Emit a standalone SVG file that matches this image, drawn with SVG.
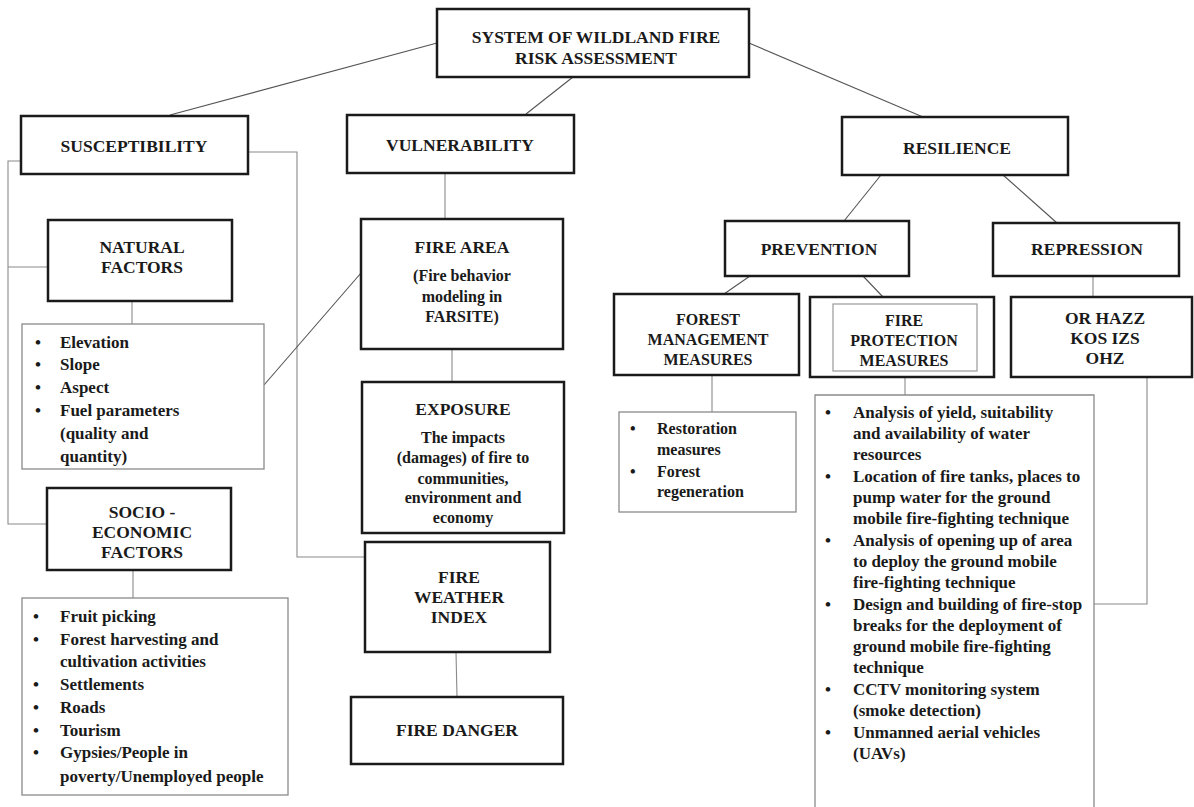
<svg xmlns="http://www.w3.org/2000/svg" width="1194" height="807" viewBox="0 0 1194 807">
<style>
text{font-family:"Liberation Serif","Times New Roman",serif;font-weight:bold;fill:#1a1a1a}
.h{font-size:17.5px;text-anchor:middle}
.h16{font-size:16px;text-anchor:middle}
.s{font-size:16px;text-anchor:middle}
.b{font-size:17px}
.b16{font-size:16px}
.box{fill:#fff;stroke:#1a1a1a;stroke-width:2.5}
.lst{fill:#fff;stroke:#8a8a8a;stroke-width:1.3}
.c{fill:none;stroke:#555;stroke-width:1.1}
.c2{fill:none;stroke:#8a8a8a;stroke-width:1.1}
</style>
<rect width="1194" height="807" fill="#fff"/>
<g id="connectors">
<line class="c" x1="437" y1="43" x2="170" y2="115"/>
<line class="c" x1="573" y1="77" x2="526" y2="114"/>
<line class="c" x1="749" y1="43" x2="923" y2="117"/>
<polyline class="c2" points="21,161 8,161 8,524 47,524"/>
<line class="c2" x1="8" y1="267" x2="48" y2="267"/>
<polyline class="c2" points="248,152 297,152 297,557 365,557"/>
<line class="c2" x1="445" y1="173" x2="445" y2="219"/>
<line class="c" x1="264" y1="385" x2="361" y2="273"/>
<line class="c2" x1="132" y1="301" x2="132" y2="324"/>
<line class="c2" x1="133" y1="570" x2="133" y2="598"/>
<line class="c2" x1="452" y1="349" x2="452" y2="382"/>
<line class="c2" x1="456" y1="652" x2="457" y2="697"/>
<line class="c" x1="881" y1="175" x2="844" y2="221"/>
<line class="c" x1="1003" y1="175" x2="1057" y2="223"/>
<line class="c" x1="750" y1="276" x2="724" y2="294"/>
<line class="c" x1="863" y1="276" x2="883" y2="297"/>
<line class="c2" x1="1093" y1="276" x2="1093" y2="297"/>
<line class="c2" x1="712" y1="375" x2="712" y2="412"/>
<line class="c2" x1="905" y1="377" x2="905" y2="395"/>
<polyline class="c2" points="1147,377 1147,604 1094,604"/>
</g>
<g id="root">
<rect class="box" x="437" y="9" width="312" height="68"/>
<text class="h" x="596" y="43">SYSTEM OF WILDLAND FIRE</text>
<text class="h" x="596" y="64">RISK ASSESSMENT</text>
</g>
<g id="susceptibility">
<rect class="box" x="21" y="116" width="227" height="58"/>
<text class="h" x="134" y="152">SUSCEPTIBILITY</text>
</g>
<g id="vulnerability">
<rect class="box" x="347" y="115" width="227" height="58"/>
<text class="h" x="460" y="151">VULNERABILITY</text>
</g>
<g id="resilience">
<rect class="box" x="842" y="117" width="226" height="58"/>
<text class="h" x="957" y="154">RESILIENCE</text>
</g>
<g id="prevention">
<rect class="box" x="725" y="221" width="184" height="55"/>
<text class="h" x="819" y="255">PREVENTION</text>
</g>
<g id="repression">
<rect class="box" x="993" y="223" width="186" height="53"/>
<text class="h" x="1087" y="255">REPRESSION</text>
</g>
<g id="forest-management">
<rect class="box" x="614" y="294" width="185" height="81"/>
<text class="h16" x="708" y="325">FOREST</text>
<text class="h16" x="708" y="345">MANAGEMENT</text>
<text class="h16" x="708" y="365">MEASURES</text>
</g>
<g id="fire-protection">
<rect class="box" x="810" y="297" width="184" height="80"/>
<rect x="833" y="304" width="144" height="67" fill="none" stroke="#999" stroke-width="1.2"/>
<text class="h16" x="904" y="326">FIRE</text>
<text class="h16" x="904" y="346">PROTECTION</text>
<text class="h16" x="904" y="366">MEASURES</text>
</g>
<g id="or-hazz">
<rect class="box" x="1011" y="297" width="181" height="80"/>
<text class="h" x="1105" y="324">OR HAZZ</text>
<text class="h" x="1105" y="344">KOS IZS</text>
<text class="h" x="1105" y="364">OHZ</text>
</g>
<g id="natural-factors">
<rect class="box" x="48" y="220" width="184" height="81"/>
<text class="h" x="142" y="253">NATURAL</text>
<text class="h" x="142" y="273">FACTORS</text>
</g>
<g id="natural-list">
<rect class="lst" x="22" y="324" width="242" height="145"/>
<text class="b"><tspan x="35" y="348">•</tspan><tspan x="60" y="348">Elevation</tspan><tspan x="35" y="370">•</tspan><tspan x="60" y="370">Slope</tspan><tspan x="35" y="393">•</tspan><tspan x="60" y="393">Aspect</tspan><tspan x="35" y="416">•</tspan><tspan x="60" y="416">Fuel parameters</tspan><tspan x="60" y="439">(quality and</tspan><tspan x="60" y="462">quantity)</tspan></text>
</g>
<g id="socio-economic">
<rect class="box" x="47" y="488" width="184" height="82"/>
<text class="h" x="142" y="518">SOCIO -</text>
<text class="h" x="142" y="538">ECONOMIC</text>
<text class="h" x="142" y="558">FACTORS</text>
</g>
<g id="socio-list">
<rect class="lst" x="22" y="598" width="266" height="197"/>
<text class="b"><tspan x="33" y="622">•</tspan><tspan x="60" y="622">Fruit picking</tspan><tspan x="33" y="645">•</tspan><tspan x="60" y="645">Forest harvesting and</tspan><tspan x="60" y="667">cultivation activities</tspan><tspan x="33" y="690">•</tspan><tspan x="60" y="690">Settlements</tspan><tspan x="33" y="713">•</tspan><tspan x="60" y="713">Roads</tspan><tspan x="33" y="736">•</tspan><tspan x="60" y="736">Tourism</tspan><tspan x="33" y="758">•</tspan><tspan x="60" y="758">Gypsies/People in</tspan><tspan x="60" y="782">poverty/Unemployed people</tspan></text>
</g>
<g id="fire-area">
<rect class="box" x="361" y="219" width="202" height="130"/>
<text class="h" x="462" y="253">FIRE AREA</text>
<text class="s" x="462" y="281">(Fire behavior</text>
<text class="s" x="462" y="302">modeling in</text>
<text class="s" x="462" y="322">FARSITE)</text>
</g>
<g id="exposure">
<rect class="box" x="362" y="382" width="202" height="151"/>
<text class="h" x="463" y="415">EXPOSURE</text>
<text class="s" x="463" y="443">The impacts</text>
<text class="s" x="463" y="463">(damages) of fire to</text>
<text class="s" x="463" y="484">communities,</text>
<text class="s" x="463" y="503">environment and</text>
<text class="s" x="463" y="523">economy</text>
</g>
<g id="fire-weather-index">
<rect class="box" x="365" y="542" width="185" height="110"/>
<text class="h" x="459" y="583">FIRE</text>
<text class="h" x="459" y="603">WEATHER</text>
<text class="h" x="459" y="623">INDEX</text>
</g>
<g id="fire-danger">
<rect class="box" x="351" y="697" width="212" height="67"/>
<text class="h" x="457" y="736">FIRE DANGER</text>
</g>
<g id="forest-list">
<rect class="lst" x="619" y="412" width="177" height="100"/>
<text class="b16"><tspan x="630" y="434">•</tspan><tspan x="657" y="434">Restoration</tspan><tspan x="657" y="455">measures</tspan><tspan x="630" y="477">•</tspan><tspan x="657" y="477">Forest</tspan><tspan x="657" y="497">regeneration</tspan></text>
</g>
<g id="protection-list">
<path class="lst" d="M815,812 V395 H1094 V812"/>
<text class="b"><tspan x="825" y="418">•</tspan><tspan x="853" y="418">Analysis of yield, suitability</tspan><tspan x="853" y="439">and availability of water</tspan><tspan x="853" y="460">resources</tspan><tspan x="825" y="482">•</tspan><tspan x="853" y="482">Location of fire tanks, places to</tspan><tspan x="853" y="503">pump water for the ground</tspan><tspan x="853" y="524">mobile fire-fighting technique</tspan><tspan x="825" y="546">•</tspan><tspan x="853" y="546">Analysis of opening up of area</tspan><tspan x="853" y="567">to deploy the ground mobile</tspan><tspan x="853" y="588">fire-fighting technique</tspan><tspan x="825" y="610">•</tspan><tspan x="853" y="610">Design and building of fire-stop</tspan><tspan x="853" y="631">breaks for the deployment of</tspan><tspan x="853" y="652">ground mobile fire-fighting</tspan><tspan x="853" y="673">technique</tspan><tspan x="825" y="695">•</tspan><tspan x="853" y="695">CCTV monitoring system</tspan><tspan x="853" y="716">(smoke detection)</tspan><tspan x="825" y="738">•</tspan><tspan x="853" y="738">Unmanned aerial vehicles</tspan><tspan x="853" y="759">(UAVs)</tspan></text>
</g>
</svg>
